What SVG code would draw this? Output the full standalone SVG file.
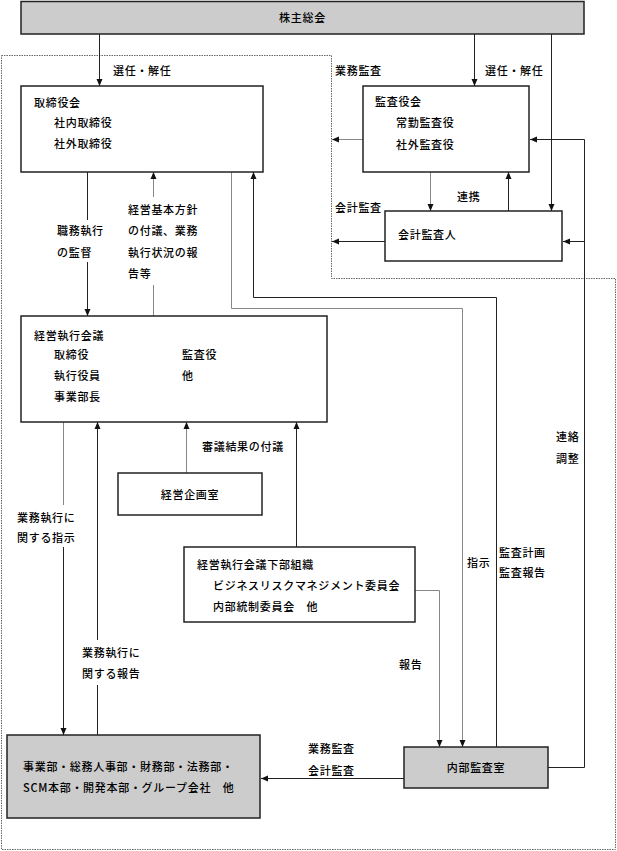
<svg xmlns="http://www.w3.org/2000/svg" width="617" height="851" viewBox="0 0 617 851">
<style>
text{font-family:"Noto Sans CJK JP","Noto Sans CJK SC",sans-serif;font-size:11px;font-weight:500;letter-spacing:0.7px;fill:#000}
.m{text-anchor:middle}
.box{fill:#fff;stroke:#222;stroke-width:1.5}
.gbox{fill:#cccccc;stroke:#222;stroke-width:1.5}
.c{fill:none;stroke:#222;stroke-width:1}
.g{fill:none;stroke:#888;stroke-width:1}
.a{marker-end:url(#ah)}
.dot{fill:none;stroke:#666;stroke-width:1;stroke-dasharray:1.5 1}
</style>
<defs>
<marker id="ah" markerUnits="userSpaceOnUse" markerWidth="8" markerHeight="8" viewBox="0 0 8 8" refX="7" refY="4" orient="auto">
<path d="M0,1 L7,4 L0,7 Z" fill="#111"/>
</marker>
</defs>
<rect width="617" height="851" fill="#fff"/>
<g id="region">
<path class="dot" d="M1.5,55.5 H331.5 V278.5 H615.5 V849.5 H1.5 Z"/>
</g>
<g id="connectors">
<path class="c a" d="M99.5,34 V86"/>
<path class="c a" d="M474.5,34 V86"/>
<path class="c a" d="M551.5,34 V211"/>
<path class="g a" d="M363,139.5 H332"/>
<path class="c a" d="M385,241.5 H332"/>
<path class="g a" d="M430.5,172 V211"/>
<path class="c a" d="M508.5,211 V172"/>
<path class="c a" d="M548,767.5 H584.5 V139.5 H530"/>
<path class="c a" d="M584.5,241.5 H563"/>
<path class="c" d="M87.5,172 V220"/>
<path class="c a" d="M87.5,262 V316"/>
<path class="g" d="M153.5,316 V285"/>
<path class="g a" d="M153.5,197 V172"/>
<path class="g a" d="M231.5,172 V308.5 H462.5 V747"/>
<path class="c a" d="M496.5,747 V297.5 H253.5 V172"/>
<path class="g" d="M63.5,422 V505"/>
<path class="c a" d="M63.5,547 V735"/>
<path class="c" d="M97.5,735 V685"/>
<path class="c a" d="M97.5,640 V422"/>
<path class="g a" d="M186.5,473 V422"/>
<path class="c a" d="M296.5,547 V422"/>
<path class="g a" d="M415,590.5 H439.5 V747"/>
<path class="c a" d="M404,778.5 H261"/>
</g>
<g id="n-shareholders">
<rect class="gbox" x="21" y="1.5" width="563" height="32.5"/>
<text class="m" x="302.5" y="22">株主総会</text>
</g>
<g id="n-board">
<rect class="box" x="21" y="86" width="242" height="86"/>
<text x="34" y="107">取締役会</text>
<text x="54" y="127">社内取締役</text>
<text x="54" y="148">社外取締役</text>
</g>
<g id="n-auditors">
<rect class="box" x="363" y="86" width="166" height="86"/>
<text x="375" y="106">監査役会</text>
<text x="396" y="127">常勤監査役</text>
<text x="396" y="149">社外監査役</text>
</g>
<g id="n-accounting-auditor">
<rect class="box" x="385" y="211" width="177" height="50"/>
<text x="398" y="239">会計監査人</text>
</g>
<g id="n-exec-council">
<rect class="box" x="21" y="316" width="306" height="106"/>
<text x="34" y="340">経営執行会議</text>
<text x="54" y="359">取締役</text>
<text x="182" y="359">監査役</text>
<text x="54" y="380">執行役員</text>
<text x="182" y="380">他</text>
<text x="54" y="401">事業部長</text>
</g>
<g id="n-planning">
<rect class="box" x="118" y="473" width="144" height="42"/>
<text class="m" x="190" y="499">経営企画室</text>
</g>
<g id="n-subcommittees">
<rect class="box" x="184" y="547" width="231" height="75"/>
<text x="197" y="569">経営執行会議下部組織</text>
<text x="213" y="590">ビジネスリスクマネジメント委員会</text>
<text x="213" y="611">内部統制委員会　他</text>
</g>
<g id="n-divisions">
<rect class="gbox" x="7" y="735" width="253" height="83"/>
<text x="23" y="771">事業部・総務人事部・財務部・法務部・</text>
<text x="23" y="792">SCM本部・開発本部・グループ会社　他</text>
</g>
<g id="n-internal-audit">
<rect class="gbox" x="404" y="747" width="144" height="41"/>
<text class="m" x="476" y="772">内部監査室</text>
</g>
<g id="labels">
<text x="113" y="75">選任・解任</text>
<text x="335" y="75">業務監査</text>
<text x="485" y="75">選任・解任</text>
<text x="457" y="201">連携</text>
<text x="335" y="212">会計監査</text>
<text x="57" y="235">職務執行</text>
<text x="57" y="257">の監督</text>
<text x="128" y="214">経営基本方針</text>
<text x="128" y="235">の付議、業務</text>
<text x="128" y="257">執行状況の報</text>
<text x="128" y="278">告等</text>
<text x="202" y="451">審議結果の付議</text>
<text x="556" y="441">連絡</text>
<text x="556" y="463">調整</text>
<text x="17" y="522">業務執行に</text>
<text x="17" y="542">関する指示</text>
<text x="467" y="567">指示</text>
<text x="499" y="557">監査計画</text>
<text x="499" y="577">監査報告</text>
<text x="399" y="669">報告</text>
<text x="82" y="657">業務執行に</text>
<text x="82" y="678">関する報告</text>
<text x="308" y="753">業務監査</text>
<text x="308" y="775">会計監査</text>
</g>
</svg>
